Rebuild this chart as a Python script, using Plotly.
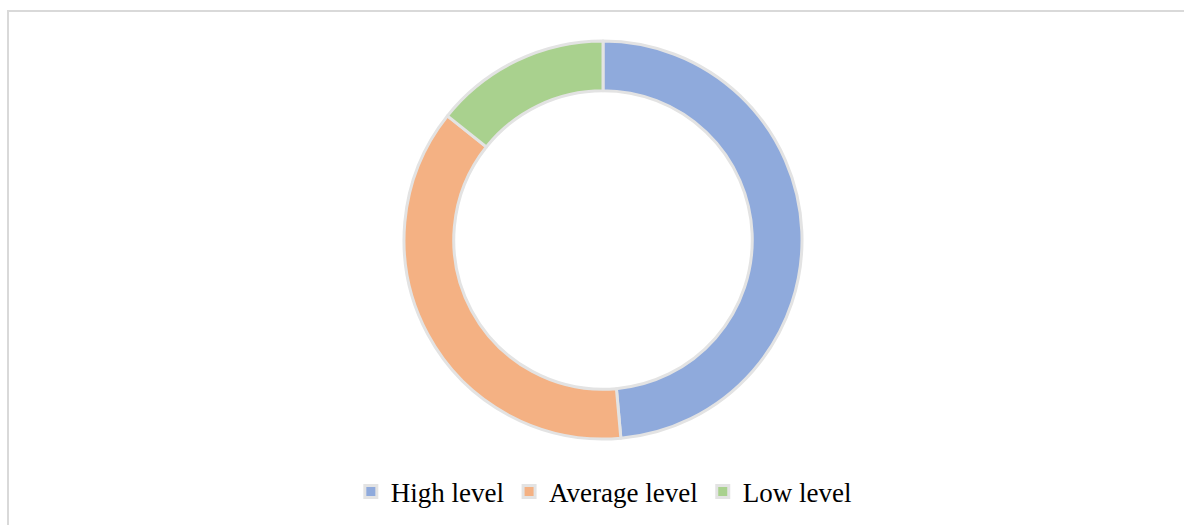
import plotly.graph_objects as go

W, H = 1184, 525
labels = ["High level", "Average level", "Low level"]
values = [17, 13, 5]
colors = ["#8FAADC", "#F4B183", "#A9D18E"]

TOP, BOT = 41, 439  # outer ring extent in px
fig = go.Figure(go.Pie(
    labels=labels,
    values=values,
    hole=0.75,
    sort=False,
    direction="clockwise",
    rotation=0,
    textinfo="none",
    marker=dict(colors=colors, line=dict(color="#E3E3E3", width=3)),
    domain=dict(x=[0.2, 0.8186], y=[0, 1]),
))

ph = BOT - TOP
fig.update_layout(
    width=W, height=H,
    margin=dict(l=0, r=0, t=TOP, b=H - BOT, autoexpand=False),
    paper_bgcolor="white",
    font=dict(family="Liberation Serif, Times New Roman, serif", size=27, color="#000000"),
    legend=dict(
        orientation="h",
        xanchor="center", x=0.51,
        yanchor="middle", y=(H - 492) / H,
        yref="container",
        font=dict(size=27),
        itemclick=False,
    ),
    shapes=[dict(
        type="rect", xref="paper", yref="paper",
        x0=8 / W, x1=1.2, y0=-0.5, y1=(BOT - 11) / ph,
        line=dict(color="#D9D9D9", width=2),
        fillcolor="rgba(0,0,0,0)",
        layer="below",
    )],
)

fig.write_html("out.html")
